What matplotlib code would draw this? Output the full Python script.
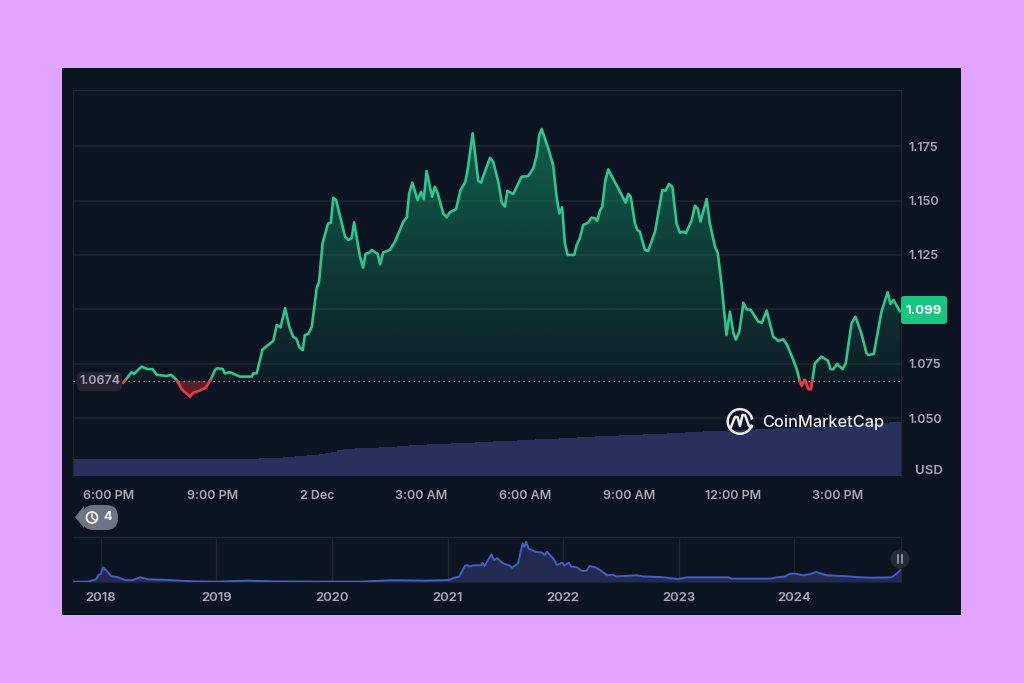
"""
ADA price chart, 1 day view with the all time strip below it
"""
import numpy as np
import matplotlib
matplotlib.use("Agg")
import matplotlib.pyplot as plt
from matplotlib.patches import Rectangle, Circle, FancyBboxPatch, Polygon

plt.rcParams['font.family'] = ['Inter', 'DejaVu Sans']

PAGE = "#e0a4ff"
PANEL = "#0d1421"
GRID = "#20262f"
GREEN = "#2cc78f"
RED = "#ea3943"
LABEL = "#a3a9ba"
VOLUME = "#28315c"
BLUE = "#3f60c8"

# hours after 6:00 PM
price_hours = [
    0.41, 0.65, 0.72, 0.94, 1.10, 1.26, 1.38, 1.66, 1.79, 1.95, 2.10, 2.34, 2.43, 2.62, 2.79,
    2.93, 3.06, 3.12, 3.28, 3.34, 3.49, 3.78, 4.12, 4.16, 4.26, 4.40, 4.43, 4.74, 4.84, 4.95,
    5.08, 5.20, 5.31, 5.41, 5.49, 5.59, 5.65, 5.75, 5.85, 5.99, 6.06, 6.16, 6.32, 6.40, 6.47,
    6.55, 6.81, 6.90, 7.00, 7.07, 7.24, 7.33, 7.40, 7.51, 7.58, 7.75, 7.82, 7.91, 8.10, 8.25,
    8.49, 8.59, 8.66, 8.75, 8.90, 9.00, 9.08, 9.16, 9.32, 9.40, 9.48, 9.64, 9.74, 9.83, 10.01,
    10.14, 10.27, 10.33, 10.49, 10.65, 10.73, 10.99, 11.08, 11.23, 11.33, 11.42, 11.49, 11.66,
    11.90, 12.09, 12.24, 12.34, 12.41, 12.48, 12.67, 12.81, 12.91, 12.99, 13.07, 13.15, 13.23,
    13.42, 13.49, 13.58, 13.68, 13.82, 13.92, 14.02, 14.08, 14.16, 14.23, 14.31, 14.40, 14.55,
    14.74, 14.90, 14.98, 15.05, 15.17, 15.24, 15.31, 15.46, 15.55, 15.75, 15.96, 16.05, 16.15,
    16.25, 16.37, 16.47, 16.56, 16.64, 16.81, 16.90, 16.98, 17.06, 17.24, 17.33, 17.48, 17.56,
    17.67, 17.81, 17.91, 18.01, 18.08, 18.18, 18.30, 18.39, 18.51, 18.73, 18.83, 18.97, 19.16,
    19.31, 19.45, 19.56, 19.74, 19.83, 19.93, 19.98, 20.07, 20.17, 20.25, 20.36, 20.55, 20.74,
    20.81, 20.89, 21.00, 21.16, 21.25, 21.42, 21.53, 21.70, 21.85, 21.90, 22.06, 22.28, 22.46,
    22.54, 22.63, 22.81,
]
price_values = [
    1.0664, 1.0712, 1.0704, 1.0738, 1.0727, 1.0726, 1.0700, 1.0695, 1.0700, 1.0677, 1.0634,
    1.0600, 1.0618, 1.0628, 1.0641, 1.0677, 1.0723, 1.0730, 1.0727, 1.0707, 1.0712, 1.0692,
    1.0692, 1.0707, 1.0707, 1.0799, 1.0817, 1.0856, 1.0929, 1.0918, 1.1006, 1.0921, 1.0875,
    1.0865, 1.0827, 1.0814, 1.0883, 1.0888, 1.0921, 1.1097, 1.1128, 1.1304, 1.1395, 1.1398,
    1.1513, 1.1502, 1.1334, 1.1319, 1.1327, 1.1400, 1.1242, 1.1192, 1.1255, 1.1261, 1.1273,
    1.1255, 1.1207, 1.1262, 1.1273, 1.1311, 1.1403, 1.1423, 1.1533, 1.1582, 1.1502, 1.1540,
    1.1506, 1.1635, 1.1517, 1.1563, 1.1533, 1.1441, 1.1423, 1.1446, 1.1460, 1.1548, 1.1582,
    1.1625, 1.1808, 1.1591, 1.1582, 1.1696, 1.1678, 1.1586, 1.1490, 1.1472, 1.1544, 1.1530,
    1.1609, 1.1612, 1.1648, 1.1709, 1.1800, 1.1828, 1.1739, 1.1663, 1.1517, 1.1441, 1.1469,
    1.1304, 1.1250, 1.1250, 1.1296, 1.1327, 1.1388, 1.1398, 1.1421, 1.1418, 1.1406, 1.1453,
    1.1472, 1.1586, 1.1643, 1.1597, 1.1540, 1.1490, 1.1530, 1.1517, 1.1395, 1.1365, 1.1357,
    1.1273, 1.1268, 1.1357, 1.1548, 1.1544, 1.1576, 1.1563, 1.1395, 1.1352, 1.1357, 1.1350,
    1.1411, 1.1476, 1.1464, 1.1403, 1.1507, 1.1395, 1.1288, 1.1258, 1.1112, 1.0883, 1.0990,
    1.0892, 1.0862, 1.0898, 1.1031, 1.1001, 1.0998, 1.0944, 1.0939, 1.0995, 1.0875, 1.0856,
    1.0863, 1.0837, 1.0768, 1.0730, 1.0669, 1.0649, 1.0677, 1.0634, 1.0634, 1.0753, 1.0784,
    1.0764, 1.0726, 1.0726, 1.0750, 1.0726, 1.0753, 1.0937, 1.0967, 1.0891, 1.0799, 1.0791,
    1.0796, 1.0990, 1.1079, 1.1025, 1.1044, 1.0992,
]
base_price = 1.0674

volume_values = [
    1.70, 1.71, 1.69, 1.70, 1.72, 1.70, 1.69, 1.71, 1.70, 1.70, 1.72, 1.71, 1.69, 1.70, 1.71,
    1.70, 1.72, 1.71, 1.70, 1.70, 1.71, 1.72, 1.70, 1.71, 1.72, 1.71, 1.72, 1.73, 1.72, 1.73,
    1.75, 1.76, 1.78, 1.80, 1.85, 1.90, 1.95, 2.00, 2.05, 2.10, 2.15, 2.20, 2.30, 2.45, 2.60,
    2.70, 2.75, 2.78, 2.80, 2.82, 2.85, 2.88, 2.92, 2.95, 3.00, 3.05, 3.08, 3.12, 3.15, 3.18,
    3.20, 3.22, 3.25, 3.28, 3.30, 3.32, 3.35, 3.38, 3.42, 3.45, 3.48, 3.50, 3.52, 3.55, 3.60,
    3.62, 3.65, 3.68, 3.70, 3.72, 3.75, 3.78, 3.80, 3.85, 3.88, 3.92, 3.95, 3.98, 4.00, 4.02,
    4.05, 4.08, 4.10, 4.12, 4.15, 4.18, 4.20, 4.22, 4.25, 4.28, 4.32, 4.35, 4.40, 4.42, 4.45,
    4.48, 4.50, 4.52, 4.55, 4.58, 4.60, 4.62, 4.65, 4.68, 4.70, 4.72, 4.75, 4.78, 4.80, 4.82,
    4.85, 4.88, 4.90, 4.95, 5.00, 5.02, 5.05, 5.08, 5.10, 5.12, 5.15, 5.18, 5.20, 5.25, 5.30,
    5.32, 5.36, 5.40,
]

hour_ticks = [0, 3, 6, 9, 12, 15, 18, 21]
hour_labels = ["6:00 PM", "9:00 PM", "2 Dec", "3:00 AM", "6:00 AM", "9:00 AM", "12:00 PM", "3:00 PM"]
price_ticks = [1.050, 1.075, 1.100, 1.125, 1.150, 1.175]
price_labels = ["1.050", "1.075", "", "1.125", "1.150", "1.175"]

history_years = [
    2017.76, 2017.89, 2017.96, 2017.98, 2018.00, 2018.02, 2018.05, 2018.09, 2018.15, 2018.21,
    2018.27, 2018.34, 2018.41, 2018.57, 2018.80, 2019.00, 2019.26, 2019.49, 2019.84, 2020.01,
    2020.24, 2020.53, 2020.82, 2021.01, 2021.06, 2021.10, 2021.15, 2021.17, 2021.19, 2021.22,
    2021.29, 2021.30, 2021.32, 2021.38, 2021.40, 2021.43, 2021.48, 2021.54, 2021.56, 2021.61,
    2021.65, 2021.665, 2021.68, 2021.70, 2021.76, 2021.82, 2021.84, 2021.86, 2021.92, 2021.945,
    2021.99, 2022.01, 2022.05, 2022.07, 2022.12, 2022.16, 2022.20, 2022.23, 2022.28, 2022.32,
    2022.38, 2022.43, 2022.46, 2022.64, 2022.69, 2022.84, 2022.997, 2023.07, 2023.27, 2023.43,
    2023.46, 2023.79, 2023.85, 2023.92, 2023.96, 2024.01, 2024.08, 2024.14, 2024.19, 2024.28,
    2024.42, 2024.54, 2024.66, 2024.84, 2024.87, 2024.92,
]
history_prices = [
    0.02, 0.03, 0.20, 0.52, 0.60, 1.10, 0.85, 0.45, 0.35, 0.15, 0.13, 0.35, 0.20, 0.15, 0.05,
    0.03, 0.10, 0.05, 0.03, 0.03, 0.03, 0.13, 0.10, 0.15, 0.33, 0.40, 1.20, 1.27, 1.15, 1.25,
    1.25, 1.45, 1.20, 2.07, 1.65, 1.78, 1.40, 1.22, 1.07, 1.40, 2.90, 2.65, 3.02, 2.52, 2.27,
    2.20, 2.02, 2.27, 1.70, 1.27, 1.45, 1.25, 1.45, 1.15, 1.10, 0.85, 0.82, 1.20, 1.10, 0.90,
    0.50, 0.55, 0.42, 0.50, 0.42, 0.37, 0.22, 0.35, 0.35, 0.35, 0.25, 0.25, 0.35, 0.40, 0.62,
    0.62, 0.50, 0.60, 0.75, 0.50, 0.45, 0.37, 0.32, 0.35, 0.52, 0.90,
]
year_ticks = [2018, 2019, 2020, 2021, 2022, 2023, 2024]


def pixel_axes(fig, left, top, right, bottom):
    """
    Axes placed by pixel edges of the 1024x683 picture
    """
    return fig.add_axes([left / 1024, (683 - bottom) / 683, (right - left) / 1024, (bottom - top) / 683])


def with_crossings(xs, ys, level):
    """
    Add the points where the line crosses level, so colours change exactly there
    """
    new_x, new_y = [xs[0]], [ys[0]]
    for i in range(1, len(xs)):
        if (ys[i - 1] - level) * (ys[i] - level) < 0:
            part = (level - ys[i - 1]) / (ys[i] - ys[i - 1])
            new_x.append(xs[i - 1] + part * (xs[i] - xs[i - 1]))
            new_y.append(level)
        new_x.append(xs[i])
        new_y.append(ys[i])
    return np.array(new_x), np.array(new_y)


fig = plt.figure(figsize=(10.24, 6.83), dpi=100, facecolor=PAGE)

back = fig.add_axes([0, 0, 1, 1], zorder=0)
back.set_xlim(0, 1024)
back.set_ylim(683, 0)
back.axis("off")
back.add_patch(Rectangle((62, 68), 899, 547, color=PANEL, lw=0))

# volume bars sit under the price axes, on their own scale
vol = pixel_axes(fig, 73, 90, 901, 476)
vol.set_zorder(1)
vol.patch.set_alpha(0)
vol.set_xlim(-1.038, 22.844)
vol.set_ylim(0, 38.6)
vol.axis("off")
vol_step = (22.844 + 1.038) / len(volume_values)
vol_x = -1.038 + vol_step * (np.arange(len(volume_values)) + 0.5)
vol.bar(vol_x, volume_values, width=vol_step * 0.88, color=VOLUME, lw=0)

# main chart
ax = pixel_axes(fig, 73, 90, 901, 476)
ax.set_zorder(2)
ax.patch.set_alpha(0)
ax.set_xticks(hour_ticks, hour_labels)
ax.set_yticks(price_ticks, price_labels)
ax.yaxis.tick_right()
ax.tick_params(axis="y", length=0, colors=LABEL, labelsize=9, pad=5)
ax.tick_params(axis="x", length=0, colors=LABEL, labelsize=9, pad=10)
for label in ax.get_xticklabels() + ax.get_yticklabels():
    label.set_fontweight("semibold")
ax.grid(axis="y", color=GRID, lw=1.1)
ax.set_axisbelow(True)
for side in ("left", "top", "right"):
    ax.spines[side].set_color(GRID)
ax.spines["bottom"].set_visible(False)

line_x, line_y = with_crossings(price_hours, price_values, base_price)
top_y = np.maximum(line_y, base_price)
low_y = np.minimum(line_y, base_price)

area = ax.fill_between(line_x, base_price, top_y, color="none", lw=0)
shade = np.zeros((256, 1, 4))
shade[..., 0] = 22 / 255
shade[..., 1] = 199 / 255
shade[..., 2] = 132 / 255
shade[..., 3] = np.linspace(0.42, 0.05, 256)[:, None]
image = ax.imshow(shade, extent=(-1.038, 22.844, base_price, 1.1828), aspect="auto", zorder=2)
image.set_clip_path(area.get_paths()[0], transform=ax.transData)
ax.set_xlim(-1.038, 22.844)
ax.set_ylim(1.0236, 1.2007)

ax.fill_between(line_x, base_price, low_y, color=RED, alpha=0.35, lw=0, zorder=2)
ax.plot(line_x, np.where(line_y >= base_price, line_y, np.nan), color=GREEN, lw=1.9, zorder=4)
ax.plot(line_x, np.where(line_y <= base_price, line_y, np.nan), color=RED, lw=1.9, zorder=4)
ax.axhline(base_price, color="#aab0bd", lw=0.9, ls=(0, (1, 3)), zorder=3)

# all time strip
mini = pixel_axes(fig, 73, 537, 901, 582)
mini.set_zorder(2)
mini.patch.set_alpha(0)
mini.set_xlim(2017.76, 2024.923)
mini.set_ylim(0, 3.375)
mini.set_xticks(year_ticks, [str(y) for y in year_ticks])
mini.set_yticks([])
mini.tick_params(length=0, colors=LABEL, labelsize=9.5, pad=7)
for label in mini.get_xticklabels():
    label.set_fontweight("semibold")
mini.grid(axis="x", color=GRID, lw=1)
mini.set_axisbelow(True)
for side in ("left", "bottom"):
    mini.spines[side].set_visible(False)
for side in ("top", "right"):
    mini.spines[side].set_color(GRID)
mini.fill_between(history_years, 0, history_prices, color="#232a50", lw=0)
mini.plot(history_years, history_prices, color=BLUE, lw=1.4)

# chips, logo and the other labels on top
front = fig.add_axes([0, 0, 1, 1], zorder=5)
front.set_xlim(0, 1024)
front.set_ylim(683, 0)
front.axis("off")
front.patch.set_alpha(0)

front.add_patch(FancyBboxPatch((77, 372), 45, 19, boxstyle="round,pad=0,rounding_size=5", color="#23262f", lw=0))
front.text(99.5, 381.5, "1.0674", color=LABEL, fontsize=9, fontweight="semibold", ha="center", va="center")

front.add_patch(FancyBboxPatch((901, 296), 46, 28, boxstyle="round,pad=0,rounding_size=3", color="#16c784", lw=0))
front.text(924, 310.5, "1.099", color="white", fontsize=9.5, fontweight="bold", ha="center", va="center")
front.text(929, 470.5, "USD", color=LABEL, fontsize=9.5, fontweight="semibold", ha="center", va="center")

# history chip
front.add_patch(Polygon([(75, 517), (84, 506), (84, 528)], color="#6e7484", lw=0))
front.add_patch(FancyBboxPatch((82, 505), 36, 25, boxstyle="round,pad=0,rounding_size=12", color="#6e7484", lw=0))
front.add_patch(Circle((92, 517.5), 5.5, fill=False, ec="white", lw=1.2))
front.plot([92, 92, 95], [514, 518, 520], color="white", lw=1)
front.text(108, 517.5, "4", color="white", fontsize=9, fontweight="bold", ha="center", va="center")

# pause button of the strip
front.add_patch(Circle((900, 559), 9.5, color="#262a35", lw=0))
front.plot([898, 898], [555, 563], color="#a3a9ba", lw=1.1)
front.plot([902, 902], [555, 563], color="#a3a9ba", lw=1.1)

# logo
angles = np.radians(np.linspace(20, 345, 80))
front.plot(740 + 12.3 * np.cos(angles), 421.5 + 12.3 * np.sin(angles), color="#e8eaf0", lw=1.8)
front.plot([731, 735, 737.5, 740, 742.5, 745, 749, 751.5], [427, 417, 417, 426, 415, 415, 426, 427],
           color="#e8eaf0", lw=1.8, solid_joinstyle="round")
front.text(762, 422.5, "CoinMarketCap", color="#e8eaf0", fontsize=11.8, fontweight="medium", ha="left", va="center")

plt.savefig("out.png", dpi=100, facecolor=PAGE)
